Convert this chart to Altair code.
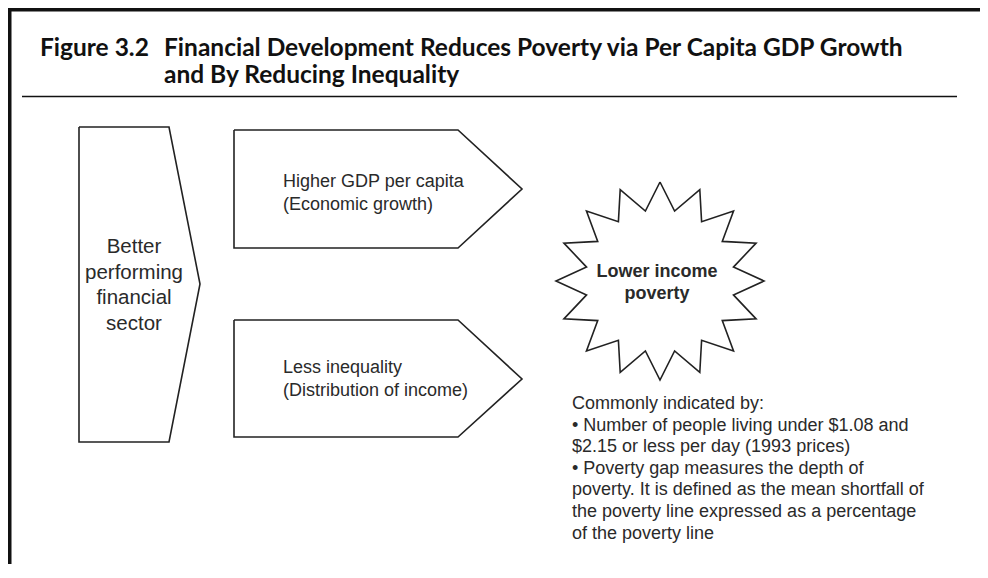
import altair as alt
import pandas as pd
import numpy as np

# page offset of the chart (8px body margin) -> coordinates below are page pixels
OFF = 8
W, H = 972, 556

# ---- straight segments: frame and title rule
seg_x1 = [9.75, 8, 22]
seg_y1 = [8, 9.75, 96.5]
seg_x2 = [9.75, 980, 957]
seg_y2 = [566, 9.75, 96.5]
seg_w = [3.5, 3.5, 1.5]

# ---- polygon outlines
pent_x = [79, 169, 200, 169, 79, 79]
pent_y = [127, 127, 284, 442, 442, 127]
up_x = [234, 458, 522, 458, 234, 234]
up_y = [130, 130, 189, 248, 248, 130]
lo_x = [234, 458, 522, 458, 234, 234]
lo_y = [320, 320, 379, 437, 437, 320]
star_cx, star_cy = 660, 281
star_rx, star_ry = 104, 99
star_inner = 0.72
star_points = 16

# ---- texts
title_num = "Figure 3.2"
title_lines = ["Financial Development Reduces Poverty via Per Capita GDP Growth",
               "and By Reducing Inequality"]
left_lines = ["Better", "performing", "financial", "sector"]
up_lines = ["Higher GDP per capita", "(Economic growth)"]
lo_lines = ["Less inequality", "(Distribution of income)"]
star_lines = ["Lower income", "poverty"]
note_lines = ["Commonly indicated by:",
              "\u2022 Number of people living under $1.08 and",
              "$2.15 or less per day (1993 prices)",
              "\u2022 Poverty gap measures the depth of",
              "poverty. It is defined as the mean shortfall of",
              "the poverty line expressed as a percentage",
              "of the poverty line"]

xs = alt.Scale(domain=[OFF, OFF + W], nice=False, zero=False)
ys = alt.Scale(domain=[OFF, OFF + H], nice=False, zero=False, reverse=True)

seg = pd.DataFrame({"x": seg_x1, "y": seg_y1, "x2": seg_x2, "y2": seg_y2, "w": seg_w})
segs = alt.Chart(seg).mark_rule(color="#111111").encode(
    x=alt.X("x:Q", scale=xs, axis=None),
    y=alt.Y("y:Q", scale=ys, axis=None),
    x2="x2:Q", y2="y2:Q",
    strokeWidth=alt.StrokeWidth("w:Q", scale=None, legend=None),
)

# star vertices
ang = np.arange(2 * star_points) * np.pi / star_points
rad = np.where(np.arange(2 * star_points) % 2 == 0, 1.0, star_inner)
sx = list(star_cx + star_rx * rad * np.sin(ang))
sy = list(star_cy - star_ry * rad * np.cos(ang))
sx.append(sx[0]); sy.append(sy[0])

rows = []
for name, px, py in [("pent", pent_x, pent_y), ("up", up_x, up_y),
                     ("lo", lo_x, lo_y), ("star", sx, sy)]:
    for i, (a, b) in enumerate(zip(px, py)):
        rows.append({"shape": name, "i": i, "x": a, "y": b})
poly = pd.DataFrame(rows)
shapes = alt.Chart(poly).mark_line(color="#222222", strokeWidth=1.6, strokeJoin="miter").encode(
    x=alt.X("x:Q", scale=xs, axis=None),
    y=alt.Y("y:Q", scale=ys, axis=None),
    detail="shape:N",
    order="i:Q",
)


def text_layer(lines, x0, y0, dy, **kw):
    df = pd.DataFrame({"t": lines, "x": [x0] * len(lines),
                       "y": [y0 + dy * k for k in range(len(lines))]})
    return alt.Chart(df).mark_text(**kw).encode(
        x=alt.X("x:Q", scale=xs, axis=None),
        y=alt.Y("y:Q", scale=ys, axis=None),
        text="t:N",
    )


TF = "Lato, sans-serif"
BF = "Liberation Sans, Arial, Helvetica, sans-serif"

layers = [
    segs, shapes,
    text_layer([title_num], 40, 56, 0, font=TF, fontSize=24.5, fontWeight="bold",
               align="left", baseline="alphabetic", color="#111111"),
    text_layer(title_lines, 164, 56, 27, font=TF, fontSize=24.5, fontWeight="bold",
               align="left", baseline="alphabetic", color="#111111"),
    text_layer(left_lines, 134, 247, 25.5, font=BF, fontSize=20.5,
               align="center", baseline="middle", color="#2a2a2a"),
    text_layer(up_lines, 283, 182, 23, font=BF, fontSize=18,
               align="left", baseline="middle", color="#2a2a2a"),
    text_layer(lo_lines, 283, 368, 23, font=BF, fontSize=18,
               align="left", baseline="middle", color="#2a2a2a"),
    text_layer(star_lines, 657, 272, 22, font=BF, fontSize=18, fontWeight="bold",
               align="center", baseline="middle", color="#2a2a2a"),
    text_layer(note_lines, 572, 404, 21.6, font=BF, fontSize=18,
               align="left", baseline="middle", color="#2a2a2a"),
]

chart = alt.layer(*layers).properties(
    width=W, height=H,
    autosize=alt.AutoSizeParams(type="none"),
    padding=0,
    background="white",
).configure_view(stroke=None)

chart.save("out.html", embed_options={"renderer": "svg", "actions": False})
